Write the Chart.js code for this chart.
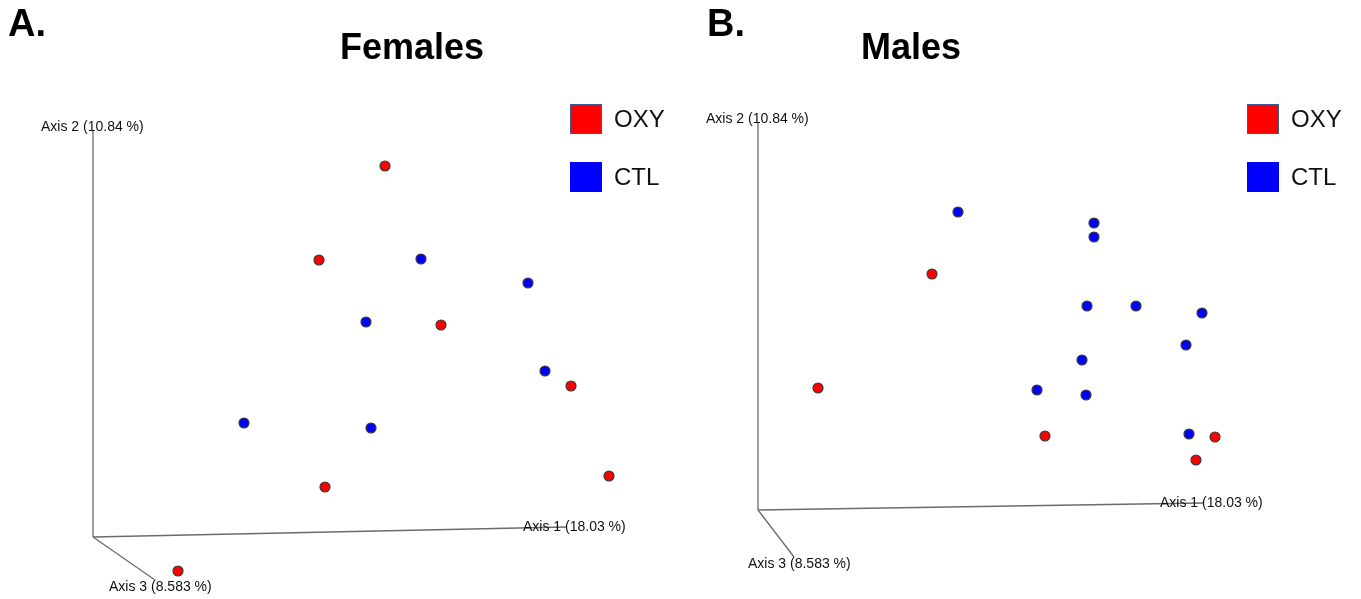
<!DOCTYPE html>
<html>
<head>
<meta charset="utf-8">
<script src="https://cdn.jsdelivr.net/npm/chart.js@4"></script>
<style>
  body { margin: 0; background: #fff; }
  #wrap { display: flex; width: 1361px; height: 599px; }
  canvas { display: block; }
</style>
</head>
<body>
<div id="wrap">
  <canvas id="chartA" width="680" height="599"></canvas>
  <canvas id="chartB" width="681" height="599"></canvas>
</div>
<script>
// projected ordination coordinates (panel units)
const femalesOxy = [[385,166],[319,260],[441,325],[571,386],[609,476],[325,487],[178,571]];
const femalesCtl = [[421,259],[528,283],[366,322],[545,371],[244,423],[371,428]];
const malesOxy = [[252,274],[138,388],[365,436],[535,437],[516,460]];
const malesCtl = [[278,212],[414,223],[414,237],[407,306],[456,306],[522,313],[506,345],[402,360],[357,390],[406,395],[509,434]];

// axis frame: origin, axis 1 end, axis 2 end, axis 3 end
const femalesAxes = [[93,537],[566,527],[93,130],[155,580]];
const malesAxes = [[78,510],[523,503],[78,122],[114,557]];

const axisNames = ['Axis 1 (18.03 %)', 'Axis 2 (10.84 %)', 'Axis 3 (8.583 %)'];
const groupNames = ['OXY', 'CTL'];
const groupColors = ['#ff0000', '#0000ff'];

function toPts(arr) {
  return arr.map(p => ({ x: p[0], y: p[1] }));
}

// draws panel letter, title, axis labels and legend
const decorPlugin = {
  id: 'decor',
  afterDatasetsDraw(chart, args, opts) {
    const ctx = chart.ctx;
    const xs = chart.scales.x, ys = chart.scales.y;
    const ax = opts.axes;
    ctx.save();
    ctx.fillStyle = '#000';
    ctx.textBaseline = 'middle';

    ctx.font = 'bold 38px Arial, "Liberation Sans", sans-serif';
    ctx.textAlign = 'left';
    ctx.fillText(opts.letter, opts.letterX, 26);

    ctx.font = 'bold 36px Arial, "Liberation Sans", sans-serif';
    ctx.textAlign = 'center';
    ctx.fillText(opts.title, opts.titleX, 49);

    // axis labels
    ctx.font = '14px Arial, "Liberation Sans", sans-serif';
    ctx.textAlign = 'left';
    ctx.fillStyle = '#111';
    const e1 = ax[1], e2 = ax[2], e3 = ax[3];
    ctx.fillText(axisNames[0], xs.getPixelForValue(e1[0]) - 43, ys.getPixelForValue(e1[1]));
    ctx.fillText(axisNames[1], xs.getPixelForValue(e2[0]) - 52, ys.getPixelForValue(e2[1]) - 3);
    ctx.fillText(axisNames[2], xs.getPixelForValue(e3[0]) - 46, ys.getPixelForValue(e3[1]) + 7);

    // legend
    ctx.font = '24px Arial, "Liberation Sans", sans-serif';
    groupNames.forEach((name, i) => {
      const top = 104 + i * 58;
      ctx.fillStyle = groupColors[i];
      ctx.fillRect(opts.legendX, top, 32, 30);
      if (i === 0) {
        ctx.strokeStyle = '#3a5a9a';
        ctx.lineWidth = 1;
        ctx.strokeRect(opts.legendX + 0.5, top + 0.5, 31, 29);
      }
      ctx.fillStyle = '#111';
      ctx.fillText(name, opts.legendX + 44, top + 16);
    });
    ctx.restore();
  }
};

function makePanel(id, oxy, ctl, axes, decor, width) {
  const axisColor = '#6b6b6b';
  const axisSets = [1, 2, 3].map(k => ({
    type: 'line',
    data: toPts([axes[0], axes[k]]),
    borderColor: axisColor,
    borderWidth: 1.3,
    pointRadius: 0,
    fill: false,
    order: 2
  }));
  const pointStyle = (pts, color) => ({
    type: 'scatter',
    data: toPts(pts),
    backgroundColor: color,
    borderColor: '#3a3a3a',
    borderWidth: 1.2,
    pointRadius: 5,
    order: 1
  });
  return new Chart(document.getElementById(id), {
    data: {
      datasets: [...axisSets, pointStyle(oxy, groupColors[0]), pointStyle(ctl, groupColors[1])]
    },
    options: {
      responsive: false,
      animation: false,
      layout: { padding: 0, autoPadding: false },
      scales: {
        x: { type: 'linear', min: 0, max: width, display: false },
        y: { type: 'linear', min: 0, max: 599, reverse: true, display: false }
      },
      plugins: {
        legend: { display: false },
        tooltip: { enabled: false },
        decor: Object.assign({ axes: axes }, decor)
      }
    },
    plugins: [decorPlugin]
  });
}

makePanel('chartA', femalesOxy, femalesCtl, femalesAxes,
  { letter: 'A.', letterX: 8, title: 'Females', titleX: 412, legendX: 570 }, 680);
makePanel('chartB', malesOxy, malesCtl, malesAxes,
  { letter: 'B.', letterX: 27, title: 'Males', titleX: 231, legendX: 567 }, 681);
</script>
</body>
</html>
